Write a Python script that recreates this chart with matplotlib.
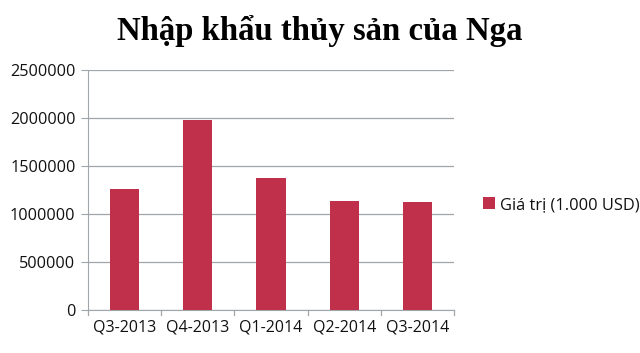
import matplotlib.pyplot as plt

quarters = ['Q3-2013', 'Q4-2013', 'Q1-2014', 'Q2-2014', 'Q3-2014']
values = [1264000, 1983000, 1372000, 1139000, 1128000]
series_name = 'Giá trị (1.000 USD)'
title = 'Nhập khẩu thủy sản của Nga'

fig = plt.figure(figsize=(6.4, 3.53), dpi=100)
ax = fig.add_axes([0.1375, 0.122, 0.572, 0.680])

# bars
ax.bar(range(len(quarters)), values, width=0.4, color='#C0304A', label=series_name, zorder=3)

ax.set_xlim(-0.5, len(quarters) - 0.5)
ax.set_ylim(0, 2500000)
ax.set_yticks(range(0, 2500001, 500000))
ax.set_yticklabels([str(v) for v in range(0, 2500001, 500000)])
ax.set_xticks(range(len(quarters)))
ax.set_xticklabels(quarters)

# gridlines and axes like Excel
ax.grid(axis='y', color='#A0A6AA', linewidth=0.9, zorder=0)
for s in ['top', 'right']:
    ax.spines[s].set_visible(False)
ax.spines['left'].set_color('#A0A6AA')
ax.spines['bottom'].set_color('#A0A6AA')
ax.tick_params(axis='y', length=5, color='#A0A6AA', labelsize=11.7, pad=4)
ax.tick_params(axis='x', length=0, labelsize=11.5, pad=7)
for lab in ax.get_xticklabels() + ax.get_yticklabels():
    lab.set_family('Open Sans')
    lab.set_color('#111111')

# tick marks between categories on x axis
for i in range(len(quarters) + 1):
    ax.plot([i - 0.5, i - 0.5], [0, -0.02], transform=ax.get_xaxis_transform(),
            color='#A0A6AA', linewidth=0.9, clip_on=False)

fig.text(0.5, 0.913, title, ha='center', va='center', fontsize=23.6,
         fontweight='bold', family='Liberation Serif')

leg = fig.legend(loc='center left', bbox_to_anchor=(0.732, 0.42), frameon=False,
                 handlelength=0.7, handleheight=0.7, handletextpad=0.35,
                 prop={'family': 'Open Sans', 'size': 11.8})
for t in leg.get_texts():
    t.set_color('#111111')

fig.savefig('out.png', dpi=100)
